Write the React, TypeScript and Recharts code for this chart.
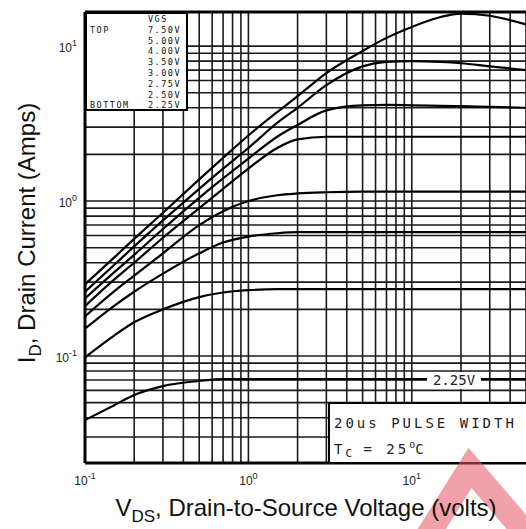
import React from "react";
import { LineChart, Line, XAxis, YAxis, CartesianGrid, ReferenceLine } from "recharts";

// drain-source voltage sample points (V)
const vds = [0.1, 0.15, 0.2, 0.3, 0.5, 0.7, 1, 1.5, 2, 3, 5, 7, 10, 15, 20, 30, 50];

// drain current (A) for each gate voltage
const id750 = [0.29, 0.43, 0.57, 0.84, 1.38, 1.9, 2.65, 3.75, 4.75, 6.7, 9.3, 11.3, 13.3, 15.4, 16.2, 15.7, 13.8];
const id500 = [0.26, 0.385, 0.51, 0.75, 1.2, 1.62, 2.2, 3.2, 4.0, 5.6, 7.4, 7.9, 8.0, 7.9, 7.75, 7.4, 7.0];
const id400 = [0.235, 0.345, 0.45, 0.66, 1.05, 1.4, 1.88, 2.6, 3.1, 3.85, 4.15, 4.17, 4.15, 4.12, 4.1, 4.05, 4.0];
const id350 = [0.21, 0.31, 0.4, 0.58, 0.9, 1.2, 1.62, 2.2, 2.5, 2.6, 2.6, 2.6, 2.6, 2.6, 2.6, 2.6, 2.6];
const id300 = [0.18, 0.26, 0.33, 0.46, 0.7, 0.86, 1.0, 1.09, 1.12, 1.14, 1.15, 1.15, 1.15, 1.15, 1.15, 1.15, 1.15];
const id275 = [0.15, 0.21, 0.26, 0.34, 0.46, 0.54, 0.59, 0.62, 0.63, 0.63, 0.63, 0.63, 0.63, 0.63, 0.63, 0.63, 0.63];
const id250 = [0.098, 0.135, 0.165, 0.2, 0.24, 0.257, 0.266, 0.27, 0.27, 0.27, 0.27, 0.27, 0.27, 0.27, 0.27, 0.27, 0.27];
const id225 = [0.0386, 0.048, 0.056, 0.064, 0.069, 0.071, 0.071, 0.071, 0.071, 0.071, 0.071, 0.071, 0.071, 0.071, 0.071, 0.071, 0.071];

const vgsLabels = ["7.50V", "5.00V", "4.00V", "3.50V", "3.00V", "2.75V", "2.50V", "2.25V"];
const vgsSeries = [id750, id500, id400, id350, id300, id275, id250, id225];

const xTicks = [0.1, 0.2, 0.3, 0.4, 0.5, 0.6, 0.7, 0.8, 0.9, 1, 2, 3, 4, 5, 6, 7, 8, 9, 10, 20, 30, 40];
const yTicks = [
  0.03, 0.04, 0.05, 0.06, 0.07, 0.08, 0.09,
  0.1, 0.2, 0.3, 0.4, 0.5, 0.6, 0.7, 0.8, 0.9,
  1, 2, 3, 4, 5, 6, 7, 8, 9, 10,
];

const rows = vds.map((v, i) => {
  const row: Record<string, number> = { vds: v };
  vgsSeries.forEach((s, k) => (row["s" + k] = s[i]));
  return row;
});

const Y_MIN = 0.0204;
const Y_MAX = 16.6;

const isDecade = (v: number) => {
  const e = Math.log10(v);
  return Math.abs(e - Math.round(e)) < 1e-6;
};

const tickFont = { fontFamily: "'Liberation Sans', Arial, sans-serif", fill: "#222" };

function XTick(props: any) {
  const { x, y, payload } = props;
  if (!isDecade(payload.value)) return <g />;
  return (
    <text x={x} y={y + 14} textAnchor="middle" fontSize={12} {...tickFont}>
      10<tspan dy={-6} fontSize={9}>{Math.round(Math.log10(payload.value))}</tspan>
    </text>
  );
}

function YTick(props: any) {
  const { x, y, payload } = props;
  if (!isDecade(payload.value)) return <g />;
  return (
    <text x={x} y={y + 6} textAnchor="end" fontSize={12} {...tickFont}>
      10<tspan dy={-6} fontSize={9}>{Math.round(Math.log10(payload.value))}</tspan>
    </text>
  );
}

const mono = "'DejaVu Sans Mono', monospace";

export default function App() {
  return (
    <div style={{ position: "absolute", left: 0, top: 0, width: 526, height: 529, background: "#fff", overflow: "hidden" }}>
      <LineChart width={526} height={529} data={rows} margin={{ top: 12, right: 0, left: 0, bottom: 0 }}>
        <CartesianGrid stroke="#1a1a1a" strokeWidth={1.6} />
        <XAxis
          dataKey="vds"
          type="number"
          scale="log"
          domain={[0.1, 50]}
          allowDataOverflow
          ticks={xTicks}
          interval={0}
          tick={<XTick />}
          tickLine={false}
          axisLine={{ stroke: "#000", strokeWidth: 3 }}
          height={66}
        />
        <YAxis
          type="number"
          scale="log"
          domain={[Y_MIN, Y_MAX]}
          allowDataOverflow
          ticks={yTicks}
          interval={0}
          tick={<YTick />}
          tickLine={false}
          axisLine={{ stroke: "#000", strokeWidth: 3 }}
          width={85}
        />
        <ReferenceLine y={Y_MAX} stroke="#000" strokeWidth={3} />
        {vgsSeries.map((_, k) => (
          <Line
            key={k}
            dataKey={"s" + k}
            type="monotone"
            stroke="#000"
            strokeWidth={2.2}
            dot={false}
            isAnimationActive={false}
          />
        ))}
      </LineChart>

      {/* VGS legend box */}
      <div
        style={{
          position: "absolute", left: 85, top: 12, width: 103, height: 99, boxSizing: "border-box",
          border: "2px solid #000", background: "#fff", fontFamily: mono, fontSize: 8.5,
          letterSpacing: 1.5, lineHeight: "10.8px", color: "#111", paddingLeft: 3,
        }}
      >
        <div style={{ display: "flex" }}>
          <span style={{ width: 58 }}></span>
          <span>VGS</span>
        </div>
        {vgsLabels.map((l, i) => (
          <div key={l} style={{ display: "flex" }}>
            <span style={{ width: 58 }}>{i === 0 ? "TOP" : i === vgsLabels.length - 1 ? "BOTTOM" : ""}</span>
            <span>{l}</span>
          </div>
        ))}
      </div>

      {/* curve label */}
      <div
        style={{
          position: "absolute", left: 427, top: 372, width: 54, height: 17, background: "#fff",
          fontFamily: mono, fontSize: 14, lineHeight: "17px", color: "#222", textAlign: "center",
        }}
      >
        2.25V
      </div>

      {/* test condition box */}
      <div
        style={{
          position: "absolute", left: 328, top: 402, width: 200, height: 60, boxSizing: "border-box",
          borderLeft: "2px solid #000", borderTop: "2px solid #000", background: "#fff",
          fontFamily: mono, fontSize: 14, letterSpacing: 3, color: "#222", padding: "9px 0 0 4px",
          lineHeight: "21px",
        }}
      >
        <div>20us PULSE WIDTH</div>
        <div>
          T<sub style={{ fontSize: 11, letterSpacing: 0 }}>C</sub> = 25<sup style={{ fontSize: 10, letterSpacing: 0 }}>o</sup>C
        </div>
      </div>

      {/* faint watermark in the corner */}
      <svg style={{ position: "absolute", left: 0, top: 0 }} width={526} height={529}>
        <path d="M420 548 L470 468 L532 540" fill="none" stroke="rgba(232,84,96,0.55)" strokeWidth={24} strokeLinejoin="miter" />
      </svg>

      {/* axis titles */}
      <div
        style={{
          position: "absolute", left: 56, top: 493, width: 500, textAlign: "center",
          fontFamily: "'Liberation Sans', Arial, sans-serif", fontSize: 24, color: "#111", lineHeight: "30px",
        }}
      >
        V<sub style={{ fontSize: 17 }}>DS</sub>, Drain-to-Source Voltage (volts)
      </div>
      <div
        style={{
          position: "absolute", left: 27 - 160, top: 233 - 15, width: 320, height: 30, textAlign: "center",
          transform: "rotate(-90deg)", fontFamily: "'Liberation Sans', Arial, sans-serif", fontSize: 24,
          color: "#111", lineHeight: "30px",
        }}
      >
        I<sub style={{ fontSize: 17 }}>D</sub>, Drain Current (Amps)
      </div>
    </div>
  );
}
